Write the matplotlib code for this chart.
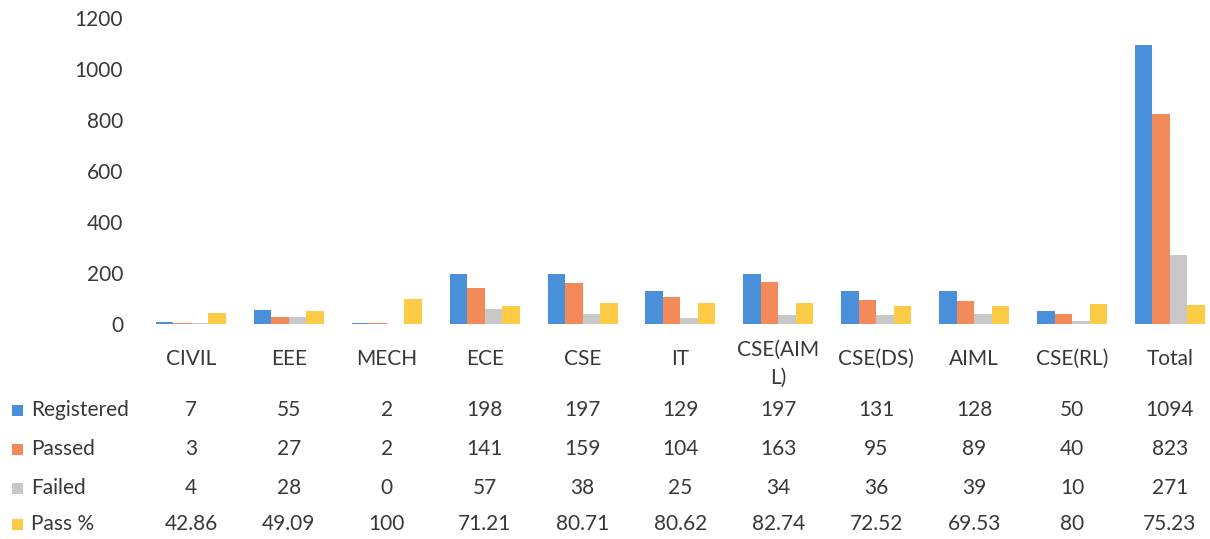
import matplotlib
matplotlib.use("Agg")
import matplotlib.pyplot as plt
import matplotlib.transforms as mtransforms
from matplotlib.patches import Rectangle
import numpy as np

categories = ["CIVIL", "EEE", "MECH", "ECE", "CSE", "IT", "CSE(AIML)", "CSE(DS)", "AIML", "CSE(RL)", "Total"]
registered = [7, 55, 2, 198, 197, 129, 197, 131, 128, 50, 1094]
passed = [3, 27, 2, 141, 159, 104, 163, 95, 89, 40, 823]
failed = [4, 28, 0, 57, 38, 25, 34, 36, 39, 10, 271]
pass_pct = [42.86, 49.09, 100, 71.21, 80.71, 80.62, 82.74, 72.52, 69.53, 80, 75.23]
series_names = ["Registered", "Passed", "Failed", "Pass %"]
y_ticks = [0, 200, 400, 600, 800, 1000, 1200]

colors = ["#4A8FDA", "#F28A5A", "#C8C8C8", "#FDCB45"]
text_color = "#383838"
FONT = "Lato"

W, H = 1210, 539
fig = plt.figure(figsize=(W / 100, H / 100), dpi=100)
fig.patch.set_facecolor("white")

ax_left, ax_right = 142, 1210
ax_bottom, ax_top = 324, 18
ax = fig.add_axes([ax_left / W, (H - ax_bottom) / H, (ax_right - ax_left) / W, (ax_bottom - ax_top) / H])

spacing = 97.9
x = np.arange(len(categories))
bw = 0.179
series = [registered, passed, failed, pass_pct]
for i, (vals, c) in enumerate(zip(series, colors)):
    ax.bar(x + (i - 1.5) * bw, vals, width=bw, color=c, linewidth=0)

ax.set_xlim(-0.5, -0.5 + (ax_right - ax_left) / spacing)
ax.set_ylim(0, 1200)
ax.set_yticks(y_ticks)
ax.set_yticklabels([str(t) for t in y_ticks], fontsize=15, color=text_color, family=FONT)
ax.tick_params(axis="y", length=0, pad=13.5)
ax.set_xticks([])
for s in ax.spines.values():
    s.set_visible(False)

trans = mtransforms.blended_transform_factory(ax.transData, fig.transFigure)
def fy(py):
    return 1 - py / H

FS = 15
for xi, cat in zip(x, categories):
    if cat == "CSE(AIML)":
        ax.text(xi, fy(350), "CSE(AIM", transform=trans, ha="center", va="center",
                fontsize=FS, color=text_color, family=FONT)
        ax.text(xi, fy(378), "L)", transform=trans, ha="center", va="center",
                fontsize=FS, color=text_color, family=FONT)
    else:
        ax.text(xi, fy(359), cat, transform=trans, ha="center", va="center",
                fontsize=FS, color=text_color, family=FONT)

row_y = [410, 449, 488, 524]
def fmt(v):
    return f"{v:g}"
for r, (name, vals, c) in enumerate(zip(series_names, series, colors)):
    py = row_y[r]
    fig.patches.append(Rectangle((12 / W, fy(py + 6)), 11 / W, 11 / H, transform=fig.transFigure,
                                 facecolor=c, edgecolor="none"))
    fig.text(31 / W, fy(py), name, ha="left", va="center", fontsize=FS, color=text_color, family=FONT)
    for xi, v in zip(x, vals):
        ax.text(xi, fy(py), fmt(v), transform=trans, ha="center", va="center",
                fontsize=FS, color=text_color, family=FONT)

fig.savefig("out.png", dpi=100, facecolor="white")
